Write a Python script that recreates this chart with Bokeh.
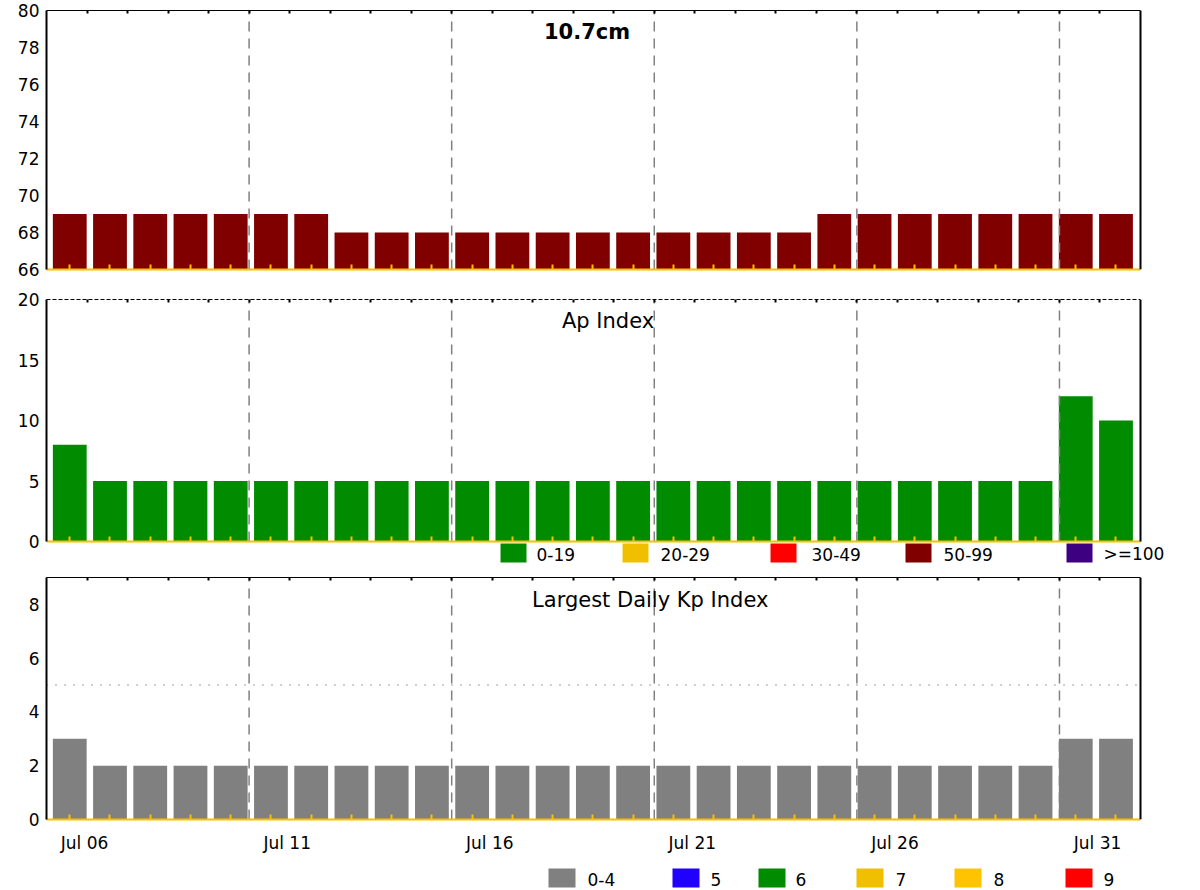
from bokeh.plotting import figure
from bokeh.models import (Range1d, LinearAxis, FixedTicker, CustomJSTickFormatter,
                          Label, ColumnDataSource)
from bokeh.layouts import column
from bokeh.embed import file_html
from bokeh.resources import INLINE
from bokeh.core.properties import value

# ---------------- data ----------------
dates = ["Jul 06", "Jul 07", "Jul 08", "Jul 09", "Jul 10", "Jul 11", "Jul 12",
         "Jul 13", "Jul 14", "Jul 15", "Jul 16", "Jul 17", "Jul 18", "Jul 19",
         "Jul 20", "Jul 21", "Jul 22", "Jul 23", "Jul 24", "Jul 25", "Jul 26",
         "Jul 27", "Jul 28", "Jul 29", "Jul 30", "Jul 31", "Aug 01"]
flux_107 = [69, 69, 69, 69, 69, 69, 69, 68, 68, 68, 68, 68, 68, 68,
            68, 68, 68, 68, 68, 69, 69, 69, 69, 69, 69, 69, 69]
ap_index = [8, 5, 5, 5, 5, 5, 5, 5, 5, 5, 5, 5, 5, 5,
            5, 5, 5, 5, 5, 5, 5, 5, 5, 5, 5, 12, 10]
kp_max = [3, 2, 2, 2, 2, 2, 2, 2, 2, 2, 2, 2, 2, 2,
          2, 2, 2, 2, 2, 2, 2, 2, 2, 2, 2, 3, 3]
date_tick_labels = ["Jul 06", "Jul 11", "Jul 16", "Jul 21", "Jul 26", "Jul 31"]
flux_yticks = [66, 68, 70, 72, 74, 76, 78, 80]
ap_yticks = [0, 5, 10, 15, 20]
kp_yticks = [0, 2, 4, 6, 8]
kp_ymax = 9
ap_classes = ["0-19", "20-29", "30-49", "50-99", ">=100"]
ap_class_lower = [0, 20, 30, 50, 100]
ap_class_colors = ["#008b00", "#f0c000", "#ff0000", "#800000", "#3c0080"]
kp_classes = ["0-4", "5", "6", "7", "8", "9"]
kp_class_lower = [0, 5, 6, 7, 8, 9]
kp_class_colors = ["#808080", "#2000ff", "#008b00", "#f0c000", "#ffc400", "#ff0000"]
kp_storm_level = 5


def class_color(v, lowers, colors):
    c = colors[0]
    for lo, col in zip(lowers, colors):
        if v >= lo:
            c = col
    return c


# ---------------- layout / style ----------------
FONT = "DejaVu Sans"
W = 1200
BL, BR = 46, 60            # data box spans page x 46 .. 1140, frame continues to 1200
FW = W - BL - BR           # data box width in px
N = len(dates)
BAR_RANGE = (-0.578, 26.609)
BAR_W = 0.84
YEL = "#f8c000"
GRAY = "#808080"
TICK_FS = "17px"
KEY_FS = "17px"


def panel(values, ylo, yhi, yticks, colors, fig_top, top, frame_h, bottom, title, tpos,
          tbold=False, top_dash="solid", with_labels=False, hline=None, extra_below=0):
    unit = frame_h / (yhi - ylo)
    ybottom = ylo - extra_below / unit
    day_end = N + BR * N / FW
    bw = BAR_RANGE[1] - BAR_RANGE[0]
    bar_end = BAR_RANGE[1] + BR * bw / FW
    p = figure(width=W, height=top + frame_h + extra_below + bottom,
               x_range=Range1d(0, day_end), y_range=Range1d(ybottom, yhi),
               output_backend="svg", toolbar_location=None,
               x_axis_location=None, y_axis_location=None,
               min_border_left=BL, min_border_right=0,
               min_border_top=top, min_border_bottom=bottom)
    p.extra_x_ranges = {"bars": Range1d(BAR_RANGE[0], bar_end),
                        "px": Range1d(BL, W)}
    p.extra_y_ranges = {"py": Range1d(fig_top + top + frame_h + extra_below, fig_top + top)}
    p.outline_line_color = None
    p.grid.visible = False
    p.background_fill_color = "white"
    p.border_fill_color = "white"

    src = ColumnDataSource(dict(i=list(range(N)), v=values, c=colors))
    p.vbar(x="i", top="v", bottom=ylo, width=BAR_W, fill_color="c",
           line_color=None, source=src, x_range_name="bars")

    ds = [dates.index(l) for l in date_tick_labels if dates.index(l) > 0]
    p.segment(x0=ds, x1=ds, y0=ylo, y1=yhi, line_color=GRAY, line_dash="10 7",
              line_width=1.5)
    if hline is not None:
        p.segment(x0=[0], x1=[N], y0=[hline], y1=[hline], line_color=GRAY,
                  line_dash="1 8", line_width=1.5)

    ly = LinearAxis(ticker=FixedTicker(ticks=yticks), axis_line_width=2, bounds=(ylo, yhi),
                    major_tick_in=0, major_tick_out=0, minor_tick_in=0, minor_tick_out=0,
                    major_label_text_font=FONT, major_label_text_font_size=TICK_FS,
                    major_label_text_color="black", major_label_standoff=7)
    p.add_layout(ly, "left")
    ry = LinearAxis(ticker=FixedTicker(ticks=[]), axis_line_width=2, bounds=(ylo, yhi),
                    fixed_location=N,
                    major_tick_in=0, major_tick_out=0, minor_tick_in=0, minor_tick_out=0,
                    major_label_standoff=0)
    p.add_layout(ry, "right")
    tx = LinearAxis(ticker=FixedTicker(ticks=[], minor_ticks=list(range(1, N))),
                    axis_line_width=1.2, axis_line_dash=top_dash, bounds=(0, N),
                    major_tick_in=0, major_tick_out=0,
                    minor_tick_in=3, minor_tick_out=0, minor_tick_line_width=2,
                    minor_tick_line_color="black", major_label_standoff=0)
    p.add_layout(tx, "above")
    bx = LinearAxis(x_range_name="bars", bounds=(BAR_RANGE[0], BAR_RANGE[1]),
                    ticker=FixedTicker(ticks=[], minor_ticks=list(range(N))),
                    axis_line_color=YEL, axis_line_width=2,
                    major_tick_in=0, major_tick_out=0,
                    minor_tick_in=5, minor_tick_out=0, minor_tick_line_color=YEL,
                    minor_tick_line_width=2, major_label_standoff=0)
    if extra_below:
        bx.fixed_location = ylo
    p.add_layout(bx, "below")
    if with_labels:
        pos = [dates.index(l) + 0.94 for l in date_tick_labels]
        lx = LinearAxis(ticker=FixedTicker(ticks=pos),
                        formatter=CustomJSTickFormatter(args=dict(labels=date_tick_labels),
                                                        code="return labels[index];"),
                        axis_line_color=None, major_tick_in=0, major_tick_out=0,
                        minor_tick_in=0, minor_tick_out=0,
                        major_label_text_font=FONT, major_label_text_font_size=TICK_FS,
                        major_label_text_color="black", major_label_standoff=13)
        p.add_layout(lx, "below")

    p.add_layout(Label(x=tpos[0], y=tpos[1], text=title, text_align="center",
                       text_baseline="middle", text_font=FONT, text_font_size="21px",
                       text_font_style="bold" if tbold else "normal", text_color="black"))
    return p


def draw_key(p, labels, colors, box_left, box_w, box_h, text_left, cy, xr=None, yr=None):
    kw = {}
    if xr:
        kw = dict(x_range_name=xr, y_range_name=yr)
    p.rect(x=[b + box_w / 2 for b in box_left], y=cy, width=box_w, height=box_h,
           fill_color=colors, line_color=None, **kw)
    p.text(x=text_left, y=cy + 1, text=labels, text_font=value(FONT),
           text_font_size=KEY_FS, text_baseline="middle", text_align="left",
           text_color="black", **kw)


flux_colors = [class_color(v, ap_class_lower, ap_class_colors) for v in flux_107]
ap_colors = [class_color(v, ap_class_lower, ap_class_colors) for v in ap_index]
kp_colors = [class_color(v, kp_class_lower, kp_class_colors) for v in kp_max]

# panel 1: page y 0-290, frame 10-269
p1 = panel(flux_107, flux_yticks[0], flux_yticks[-1], flux_yticks, flux_colors,
           0, 10, 259, 21, "10.7cm", (13.34, 78.85), tbold=True)
# panel 2: page y 290-570, frame 299-541, key area 541-570
p2 = panel(ap_index, ap_yticks[0], ap_yticks[-1], ap_yticks, ap_colors,
           290, 9, 242, 0, "Ap Index", (13.86, 18.26), top_dash="4 2", extra_below=29)
draw_key(p2, ap_classes, ap_class_colors,
         [500, 622, 770, 905, 1066], 26, 19,
         [536, 660, 811, 943, 1103], 552.5, xr="px", yr="py")
# panel 3: page y 570-855, frame 577-820
p3 = panel(kp_max, 0, kp_ymax, kp_yticks, kp_colors,
           570, 7, 243, 35, "Largest Daily Kp Index", (14.9, 8.15),
           with_labels=True, hline=kp_storm_level)
# Kp key: page y 855-890 (frame aligned with the panels above: page x 46..1200)
KH = 35
leg = figure(width=W, height=KH, x_range=Range1d(BL, W), y_range=Range1d(KH, 0),
             output_backend="svg", toolbar_location=None,
             x_axis_location=None, y_axis_location=None,
             min_border_left=BL, min_border_right=0, min_border_top=0, min_border_bottom=0)
leg.outline_line_color = None
leg.grid.visible = False
draw_key(leg, kp_classes, kp_class_colors,
         [548, 672, 758, 856, 954, 1065], 27, 19,
         [587, 710, 795, 895, 993, 1103], 22.5)

layout = column(p1, p2, p3, leg, spacing=0)
open("out.html", "w").write(file_html(layout, INLINE))
